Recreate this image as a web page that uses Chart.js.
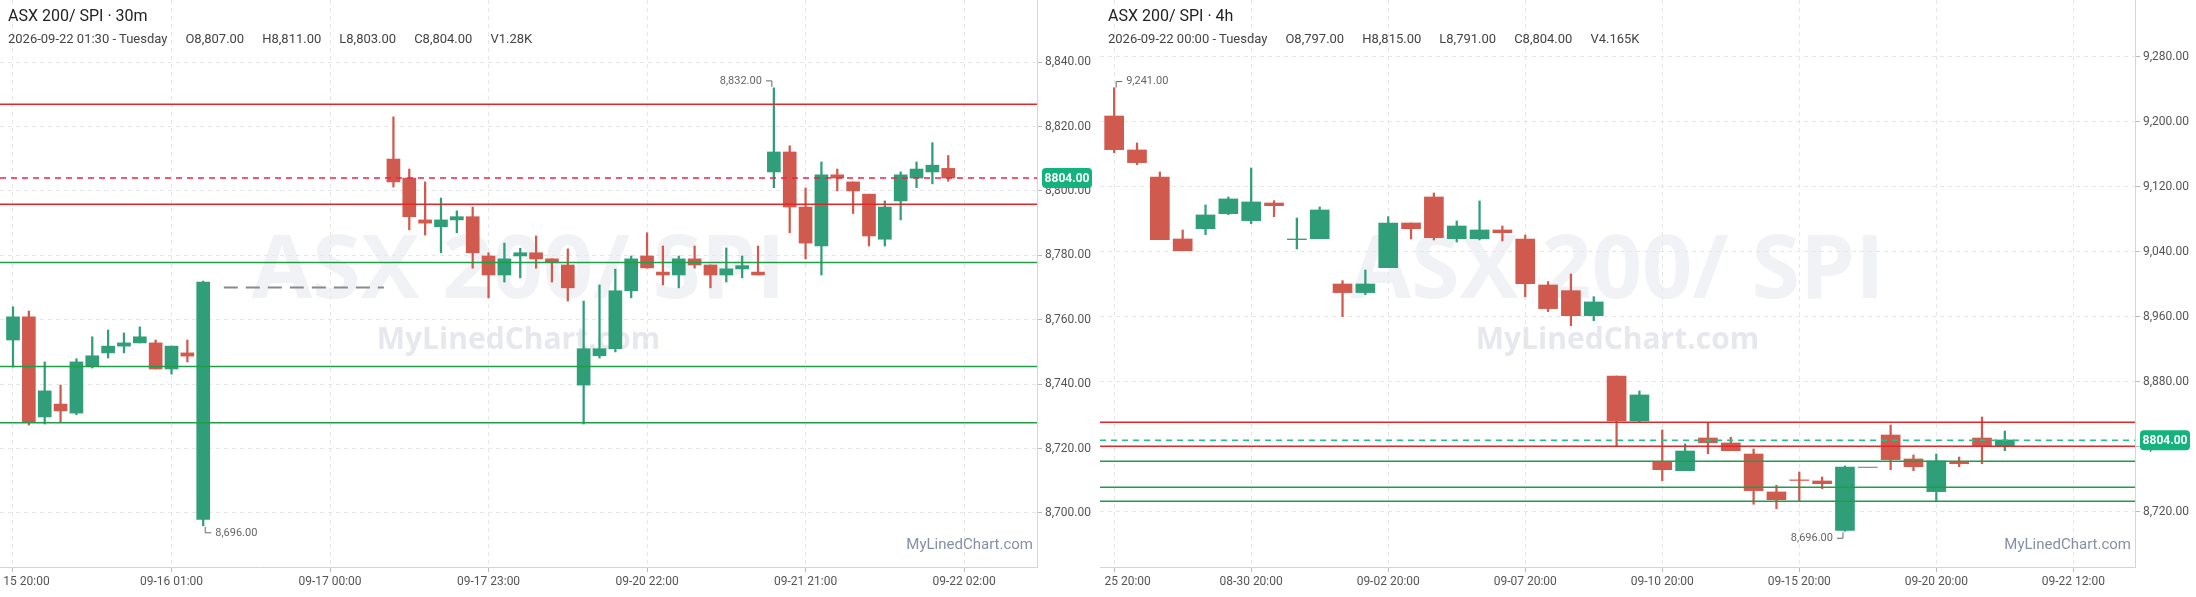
<!DOCTYPE html>
<html><head><meta charset="utf-8">
<script src="https://cdn.jsdelivr.net/npm/chart.js@4.4.1/dist/chart.umd.min.js"></script>
<style>
html,body{margin:0;padding:0;background:#fff;width:2196px;height:597px;overflow:hidden;font-family:Roboto,"Liberation Sans",sans-serif;}
.panel{position:absolute;top:0;height:597px;}
.t1{position:absolute;left:8px;top:6px;font-size:16px;color:#222;}
.t2{position:absolute;left:8px;top:31px;font-size:13px;color:#444;word-spacing:0;}
.t2 span{margin-right:18px;}
</style></head><body>
<div class="panel" id="pL" style="left:0;width:1100px"><canvas id="cL" width="1100" height="597"></canvas>
<div class="t1">ASX 200/ SPI · 30m</div>
<div class="t2"><span>2026-09-22 01:30 - Tuesday</span><span>O8,807.00</span><span>H8,811.00</span><span>L8,803.00</span><span>C8,804.00</span><span>V1.28K</span></div></div>
<div class="panel" id="pR" style="left:1100px;width:1096px"><canvas id="cR" width="1096" height="597"></canvas>
<div class="t1">ASX 200/ SPI · 4h</div>
<div class="t2"><span>2026-09-22 00:00 - Tuesday</span><span>O8,797.00</span><span>H8,815.00</span><span>L8,791.00</span><span>C8,804.00</span><span>V4.165K</span></div></div>
<script>
// ---- Left panel (30m) ----
const leftTickLabels = {0:"\u2007\u2007\u2007\u200715 20:00",10:"09-16 01:00",20:"09-17 00:00",30:"09-17 23:00",40:"09-20 22:00",50:"09-21 21:00",60:"09-22 02:00"};
const leftOpen  = [8753.7,8760.9,8729.8,8733.8,8731.0,8745.6,8749.7,8751.8,8752.8,8752.8,8744.7,8749.7,8698.0,
  null,null,null,null,null,null,null,null,null,null,null,
  8809.9,8804.0,8791.0,8788.9,8791.0,8792.0,8779.8,8773.9,8779.8,8780.8,8778.9,8777.0,8739.7,8748.8,8751.0,8769.0,8779.8,8774.8,8773.9,8778.9,8777.0,8773.9,8775.8,8774.8,8805.9,8812.1,8795.0,8782.9,8805.0,8802.8,8799.0,8785.0,8796.9,8804.0,8805.9,8807.0];
const leftHigh  = [8764.0,8762.7,8746.9,8739.7,8747.9,8754.7,8756.8,8755.9,8757.8,8753.7,8751.8,8753.7,8772.0,
  null,null,null,null,null,null,null,null,null,null,null,
  8823.0,8806.8,8802.8,8797.8,8793.8,8795.0,8780.8,8783.8,8782.2,8786.0,8778.9,8782.0,8765.8,8770.8,8775.7,8779.8,8787.0,8782.9,8779.8,8782.9,8777.0,8782.3,8779.8,8782.9,8832.0,8814.0,8800.9,8809.0,8806.8,8802.8,8799.0,8796.9,8805.9,8809.0,8815.0,8811.0];
const leftLow   = [8745.3,8727.3,8727.6,8728.0,8730.5,8745.0,8748.1,8749.7,8752.8,8744.7,8743.1,8746.9,8696.0,
  null,null,null,null,null,null,null,null,null,null,null,
  8801.2,8787.9,8786.3,8780.8,8787.0,8776.0,8766.8,8771.7,8773.0,8776.0,8771.7,8765.8,8727.6,8748.1,8750.0,8766.8,8776.0,8770.8,8769.9,8776.0,8769.9,8771.7,8773.0,8773.9,8801.0,8787.0,8778.9,8773.9,8800.0,8793.0,8782.9,8782.9,8791.0,8801.0,8802.2,8803.0];
const leftClose = [8760.9,8728.0,8737.9,8731.7,8746.9,8748.8,8751.8,8752.8,8754.7,8744.7,8751.8,8748.7,8771.7,
  null,null,null,null,null,null,null,null,null,null,null,
  8802.8,8792.0,8790.0,8791.0,8792.0,8780.8,8773.9,8778.9,8780.8,8778.9,8778.0,8769.9,8751.0,8751.0,8769.0,8778.9,8776.1,8773.9,8778.9,8777.0,8773.9,8775.8,8776.8,8773.9,8812.1,8795.0,8783.8,8805.0,8804.0,8800.0,8786.0,8795.0,8805.0,8806.8,8808.0,8804.0];
const leftRedLevels = [8826.9, 8795.9];
const leftGreenLevels = [8777.8, 8745.5, 8728.0];
const leftLast = 8804.0;
const leftLastText = "8804.00";
const leftDrawnLine = [[13.3, 8770.0],[23.4, 8770.0]];
const leftHighMark = [48, 8832.0];
const leftLowMark = [12, 8696.0];

// ---- Right panel (4h) ----
const rightTickLabels = {0:"\u2007\u2007\u2007\u200725 20:00",6:"08-30 20:00",12:"09-02 20:00",18:"09-07 20:00",24:"09-10 20:00",30:"09-15 20:00",36:"09-20 20:00",42:"09-22 12:00"};
const rightOpen  = [9207.2,9165.4,9132.1,9055.8,9068.5,9087.0,9078.4,9100.1,9055.0,9056.2,9000.4,8989.8,9020.5,9075.5,9107.5,9056.2,9056.2,9066.9,9055.8,8999.2,8992.2,8961.4,
  8887.1,8831.8,8781.7,8770.6,8810.8,8804.7,8791.1,8744.4,8759.1,8757.9,8697.0,8774.7,8814.5,8785.0,8744.8,8781.7,8810.8,8801.0];
const rightHigh  = [9242.0,9174.0,9138.3,9066.9,9097.7,9107.5,9143.2,9103.0,9081.6,9095.2,9004.5,9017.6,9083.3,9075.5,9112.4,9078.0,9102.6,9071.8,9060.7,9003.3,9012.7,8984.8,
  8887.1,8868.7,8820.7,8803.4,8830.1,8811.7,8797.3,8752.6,8769.0,8762.8,8776.4,8774.7,8826.8,8789.9,8791.1,8787.4,8836.7,8819.4];
const rightLow   = [9162.1,9147.3,9055.0,9041.4,9061.2,9085.8,9074.7,9083.3,9043.5,9056.0,8960.2,8987.3,9020.5,9055.8,9054.6,9052.1,9054.6,9053.4,8984.8,8966.4,8949.0,8955.3,
  8801.0,8830.1,8758.3,8770.6,8791.5,8795.2,8729.2,8723.8,8733.3,8748.5,8696.0,8774.7,8771.8,8770.6,8733.3,8775.5,8779.2,8795.2];
const rightClose = [9165.8,9149.8,9055.0,9041.4,9085.4,9105.1,9101.4,9096.8,9055.8,9091.5,8989.8,9000.4,9075.5,9068.5,9057.4,9071.8,9066.9,9063.6,9000.8,8970.1,8961.4,8978.3,
  8831.8,8863.8,8771.8,8794.8,8805.1,8795.2,8746.0,8734.9,8758.7,8754.6,8775.1,8774.7,8784.2,8775.5,8782.5,8779.2,8801.0,8808.4];
const rightRedLevels = [8830.1, 8800.6];
const rightGreenLevels = [8782.1, 8750.1, 8732.9];
const rightLast = 8808.0;
const rightLastText = "8804.00";
const rightHighMark = [0, 9241.0];
const rightLowMark = [32, 8696.0];
const rightNeutral = [33];

const UP='#2f9e79', DOWN='#d05a4e', NEUT='#8f8f8f';
const fmt = v => v.toLocaleString('en-US',{minimumFractionDigits:2,maximumFractionDigits:2});

function build(canvasId, o, h, l, c, neutral, opts){
  const bodies=[], wicks=[], cols=[];
  for(let i=0;i<o.length;i++){
    if(o[i]==null) continue;
    let a=o[i], b=c[i];
    if(Math.abs(a-b)<0.4){ const m=(a+b)/2; a=m-0.35; b=m+0.35; }
    bodies.push({x:i,y:[a,b]});
    wicks.push({x:i,y:[l[i],h[i]]});
    cols.push(neutral.includes(i)?NEUT:(c[i]>=o[i]?UP:DOWN));
  }
  const ds=[
    {type:'bar',data:bodies,backgroundColor:cols,barThickness:opts.bodyW,grouped:false,order:3},
    {type:'bar',data:wicks,backgroundColor:cols,barThickness:1.6,grouped:false,order:4},
  ];
  const line=(v,col,dash)=>({type:'line',data:[{x:opts.xmin,y:v},{x:opts.xmax,y:v}],borderColor:col,borderWidth:1.5,borderDash:dash||[],pointRadius:0,order:1});
  opts.red.forEach(v=>ds.push(line(v,'#e0282a')));
  opts.green.forEach(v=>ds.push(line(v,'#1f9e4a')));
  ds.push(line(opts.last,opts.lastCol,[6,5]));
  if(opts.extra) ds.push({type:'line',data:opts.extra.map(p=>({x:p[0],y:p[1]})),borderColor:'#8a8a8a',borderWidth:2,borderDash:[14,8],pointRadius:0,order:1});

  const overlay={id:'ov',
    beforeDatasetsDraw(ch){
      const ctx=ch.ctx, a=ch.chartArea;
      ctx.save();
      ctx.fillStyle='rgba(232,234,239,0.6)';
      ctx.font='bold 88px "Open Sans", sans-serif';
      ctx.textAlign='center'; ctx.textBaseline='middle';
      ctx.fillText('ASX 200/ SPI',(a.left+a.right)/2,273);
      ctx.fillStyle='rgba(226,228,235,0.85)';
      ctx.font='bold 30px "Open Sans", sans-serif';
      ctx.fillText('MyLinedChart.com',(a.left+a.right)/2,340);
      ctx.restore();
    },
    afterDraw(ch){
      const ctx=ch.ctx, a=ch.chartArea, xs=ch.scales.x, ys=ch.scales.y;
      ctx.save();
      ctx.fillStyle='#8590a6'; ctx.font='15px Roboto, sans-serif';
      ctx.textAlign='right'; ctx.textBaseline='middle';
      ctx.fillText('MyLinedChart.com',a.right-4,a.bottom-22);
      ctx.fillStyle='#666'; ctx.strokeStyle='#666'; ctx.lineWidth=1; ctx.font='11px Roboto, sans-serif';
      const hx=xs.getPixelForValue(opts.hi[0]), hy=ys.getPixelForValue(opts.hi[1]);
      if(opts.hiSide==='left'){ ctx.textAlign='right'; ctx.fillText(fmt(opts.hi[1]),hx-12,hy-7);
        ctx.beginPath();ctx.moveTo(hx-8,hy-7);ctx.lineTo(hx-2,hy-7);ctx.lineTo(hx-2,hy-1);ctx.stroke(); }
      else { ctx.textAlign='left'; ctx.fillText(fmt(opts.hi[1]),hx+12,hy-7);
        ctx.beginPath();ctx.moveTo(hx+8,hy-7);ctx.lineTo(hx+2,hy-7);ctx.lineTo(hx+2,hy-1);ctx.stroke(); }
      const lx=xs.getPixelForValue(opts.lo[0]), ly=ys.getPixelForValue(opts.lo[1]);
      if(opts.loSide==='right'){ ctx.textAlign='left'; ctx.fillText(fmt(opts.lo[1]),lx+12,ly+7);
        ctx.beginPath();ctx.moveTo(lx+2,ly+1);ctx.lineTo(lx+2,ly+7);ctx.lineTo(lx+8,ly+7);ctx.stroke(); }
      else { ctx.textAlign='right'; ctx.fillText(fmt(opts.lo[1]),lx-12,ly+7);
        ctx.beginPath();ctx.moveTo(lx-2,ly+1);ctx.lineTo(lx-2,ly+7);ctx.lineTo(lx-8,ly+7);ctx.stroke(); }
      const by=ys.getPixelForValue(opts.last);
      ctx.fillStyle='#14b27c';
      const bx=a.right+5, bw=50, bh=20;
      ctx.beginPath(); ctx.roundRect(bx,by-bh/2,bw,bh,4); ctx.fill();
      ctx.fillStyle='#fff'; ctx.font='bold 12px Roboto, sans-serif'; ctx.textAlign='center';
      ctx.fillText(opts.lastText,bx+bw/2,by+1);
      ctx.restore();
    }};

  return new Chart(document.getElementById(canvasId),{
    data:{datasets:ds},
    plugins:[overlay],
    options:{responsive:false,animation:false,devicePixelRatio:1,
      layout:{padding:0},
      plugins:{legend:{display:false},tooltip:{enabled:false}},
      scales:{
        x:{type:'linear',min:opts.xmin,max:opts.xmax,offset:false,
          grid:{color:'#e6e6e6',offset:false,drawTicks:true,tickLength:5,tickColor:'#bbb'},
          border:{display:true,color:'#d9d4d0',dash:[4,4]},
          ticks:{stepSize:opts.xstep,autoSkip:false,includeBounds:false,maxRotation:0,color:'#555',font:{size:12,family:'Roboto'},
            callback:v=>opts.xlabels[v]??''},
          afterFit:s=>{s.height=30;s.paddingLeft=0;s.paddingRight=0;}},
        y:{position:'right',min:opts.ymin,max:opts.ymax,
          grid:{color:'#e6e6e6',tickLength:5,tickColor:'#bbb'},
          border:{display:true,color:'#d9d4d0',dash:[4,4]},
          ticks:{stepSize:opts.ystep,includeBounds:false,color:'#555',font:{size:12,family:'Roboto'},callback:v=>fmt(v)},
          afterFit:s=>{s.width=opts.yw;s.paddingTop=0;s.paddingBottom=0;}}
      }}
  });
}

build('cL',leftOpen,leftHigh,leftLow,leftClose,[],{
  xmin:-0.82,xmax:64.6,xstep:10,xlabels:leftTickLabels,ymin:8683.2,ymax:8859.3,ystep:20,yw:63,bodyW:13,
  red:leftRedLevels,green:leftGreenLevels,last:leftLast,lastText:leftLastText,lastCol:'#f0224a',extra:leftDrawnLine,
  hi:leftHighMark,hiSide:'left',lo:leftLowMark,loSide:'right'});
build('cR',rightOpen,rightHigh,rightLow,rightClose,rightNeutral,{
  xmin:-0.62,xmax:44.7,xstep:6,xlabels:rightTickLabels,ymin:8652,ymax:9350,ystep:80,yw:61,bodyW:19,
  red:rightRedLevels,green:rightGreenLevels,last:rightLast,lastText:rightLastText,lastCol:'#22c08a',
  hi:rightHighMark,hiSide:'right',lo:rightLowMark,loSide:'left'});
</script></body></html>
